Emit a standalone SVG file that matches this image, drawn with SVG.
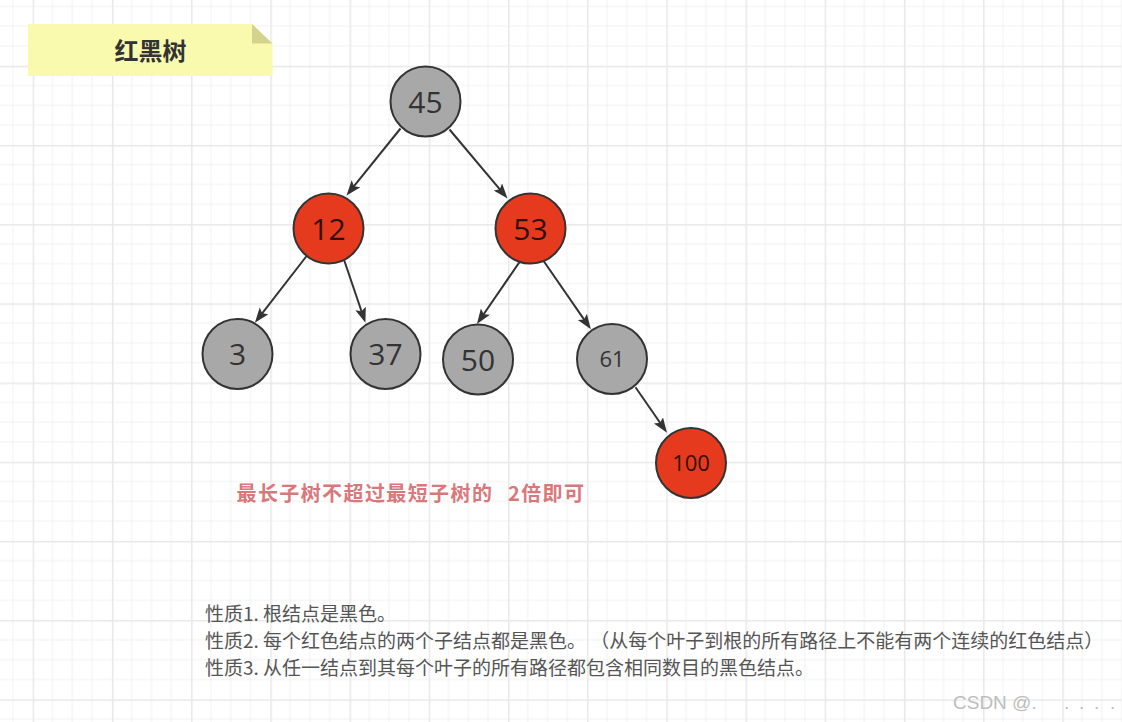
<svg xmlns="http://www.w3.org/2000/svg" width="1122" height="722" viewBox="0 0 1122 722">
<style>
.node-g circle{stroke:#333;stroke-width:2}
.gray{fill:#a8a8a8}
.red{fill:#e63a1e}
.num{font-family:"Open Sans","Noto Sans",sans-serif;text-anchor:middle;fill:#333}
.num-r{fill:#2e1008}
.edge{stroke:#333;stroke-width:2;fill:none;marker-end:url(#arrow)}
.prop{font-family:"Noto Sans CJK SC","Noto Sans",sans-serif;font-size:19px;fill:#555}
</style>
<defs>
<pattern id="grid" patternUnits="userSpaceOnUse" x="32.7" y="-13.5" width="79.2" height="79.2">
<path d="M19.8,0V79.2M39.6,0V79.2M59.4,0V79.2M0,19.8H79.2M0,39.6H79.2M0,59.4H79.2" stroke="#f1f1f1" stroke-width="1" fill="none"/>
<path d="M0.75,0V79.2M0,0.75H79.2" stroke="#e8e8e8" stroke-width="1.5" fill="none"/>
</pattern>
<marker id="arrow" markerUnits="userSpaceOnUse" markerWidth="16" markerHeight="12" viewBox="0 0 16 12" refX="5" refY="5.5" orient="auto">
<path d="M0,0 L15,5.5 L0,11 L3,5.5 z" fill="#333"/>
</marker>
</defs>
<rect x="0" y="0" width="1122" height="722" fill="#ffffff"/>
<rect x="0" y="0" width="1122" height="722" fill="url(#grid)"/>

<g id="title-note">
<polygon points="28,24 252,24 272.5,43.5 272.5,76 28,76" fill="#fafaaf"/>
<polygon points="252,24 252,43.5 272.5,43.5" fill="#d3d38e"/>
<text x="150.5" y="60" font-family="Noto Sans CJK SC,sans-serif" font-size="24" font-weight="bold" fill="#333" text-anchor="middle">红黑树</text>
</g>

<g id="connectors">
<line class="edge" x1="400.5" y1="128.5" x2="352.8" y2="187.7"/>
<line class="edge" x1="449.5" y1="129.5" x2="501.1" y2="190.8"/>
<line class="edge" x1="307" y1="255.5" x2="261.0" y2="314.8"/>
<line class="edge" x1="344" y1="259.7" x2="362.2" y2="313.2"/>
<line class="edge" x1="519.8" y1="261.6" x2="482.6" y2="315.8"/>
<line class="edge" x1="543.8" y1="261.2" x2="585.2" y2="321.1"/>
<line class="edge" x1="635.5" y1="387.3" x2="661.3" y2="424.5"/>
</g>

<g id="node-45" class="node-g">
<circle cx="425.5" cy="101.5" r="35" class="gray"/>
<text x="425.5" y="112.5" class="num" font-size="30">45</text>
</g>
<g id="node-12" class="node-g">
<circle cx="328.5" cy="228.5" r="35" class="red"/>
<text x="328.5" y="239.5" class="num num-r" font-size="30">12</text>
</g>
<g id="node-53" class="node-g">
<circle cx="530.5" cy="228.5" r="35" class="red"/>
<text x="530.5" y="239.5" class="num num-r" font-size="30">53</text>
</g>
<g id="node-3" class="node-g">
<circle cx="237.5" cy="354" r="35" class="gray"/>
<text x="237.5" y="365" class="num" font-size="30">3</text>
</g>
<g id="node-37" class="node-g">
<circle cx="385.5" cy="354" r="35" class="gray"/>
<text x="385.5" y="365" class="num" font-size="30">37</text>
</g>
<g id="node-50" class="node-g">
<circle cx="478" cy="359.5" r="35" class="gray"/>
<text x="478" y="370.5" class="num" font-size="30">50</text>
</g>
<g id="node-61" class="node-g">
<circle cx="612" cy="359" r="35" class="gray"/>
<text x="612" y="366.8" class="num" font-size="22">61</text>
</g>
<g id="node-100" class="node-g">
<circle cx="691" cy="463" r="35" class="red"/>
<text x="691" y="470.8" class="num num-r" font-size="22">100</text>
</g>

<g id="note-red">
<text y="500.5" font-family="Noto Sans CJK SC,sans-serif" font-size="20" font-weight="bold" fill="#d9777b" letter-spacing="1.4"><tspan x="236.5">最长子树不超过最短子树的</tspan><tspan x="508">2倍即可</tspan></text>
</g>

<g id="properties">
<text class="prop" x="205" y="620.5">性质1. 根结点是黑色。</text>
<text class="prop" x="205" y="648">性质2. 每个红色结点的两个子结点都是黑色。 （从每个叶子到根的所有路径上不能有两个连续的红色结点）</text>
<text class="prop" x="205" y="675">性质3. 从任一结点到其每个叶子的所有路径都包含相同数目的黑色结点。</text>
</g>

<g id="watermark">
<text y="709" font-family="Liberation Sans,Arial,sans-serif" font-size="19" fill="#bdbdbd"><tspan x="953">CSDN @.</tspan><tspan x="1064">.</tspan><tspan x="1079">.</tspan><tspan x="1094">.</tspan><tspan x="1110">.</tspan></text>
</g>
</svg>
